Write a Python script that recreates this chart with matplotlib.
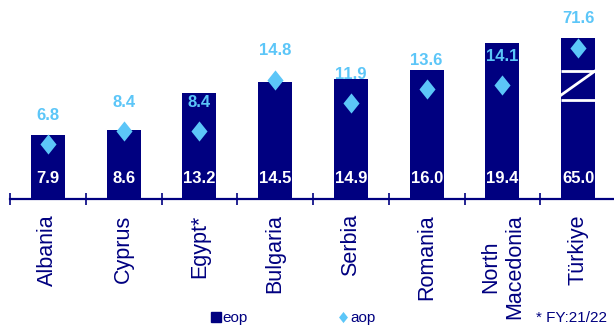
import matplotlib
matplotlib.use('Agg')
import matplotlib.pyplot as plt
from matplotlib import font_manager
from matplotlib.lines import Line2D
import numpy as np

# values
countries = ['Albania', 'Cyprus', 'Egypt*', 'Bulgaria', 'Serbia', 'Romania',
             'North\nMacedonia', 'Türkiye']
eop = [7.9, 8.6, 13.2, 14.5, 14.9, 16.0, 19.4, 65.0]
aop = [6.8, 8.4, 8.4, 14.8, 11.9, 13.6, 14.1, 71.6]

# Türkiye is drawn on a broken (compressed) axis, like in the original
broken_eop_shown = 20.0
broken_aop_shown = 18.8

navy = '#000080'
light_blue = '#5CC6F8'

names = {f.name for f in font_manager.fontManager.ttflist}
narrow = 'Liberation Sans Narrow' if 'Liberation Sans Narrow' in names else None
plt.rcParams['font.family'] = ['Liberation Sans', 'DejaVu Sans']
if narrow:
    val_font, val_size, small_size = narrow, 13, 12.5
else:
    val_font, val_size, small_size = 'Liberation Sans', 12, 11

eop_shown = eop[:-1] + [broken_eop_shown]
aop_shown = aop[:-1] + [broken_aop_shown]

diamond = [(0, 1), (0.8, 0), (0, -1), (-0.8, 0), (0, 1)]

fig = plt.figure(figsize=(6.14, 3.3), dpi=100)
ax = fig.add_axes([10 / 614, 1 - 199 / 330, 606 / 614, 199 / 330])

x = np.arange(len(countries))
bw = 0.45
ax.bar(x, eop_shown, width=bw, color=navy, zorder=2)
ax.plot(x, aop_shown, linestyle='none', marker=diamond, markersize=14.5,
        color=light_blue, markeredgewidth=0, zorder=4)

# break marks on the last bar
xl, xr = x[-1] - bw / 2, x[-1] + bw / 2
ax.plot([xl, xr], [15.9, 15.9], color='white', lw=2, zorder=3, solid_capstyle='butt')
ax.plot([xl, xr], [12.3, 12.3], color='white', lw=2, zorder=3, solid_capstyle='butt')
ax.plot([xl, xr], [12.9, 15.9], color='white', lw=2, zorder=3)

for i in range(len(countries)):
    ax.text(x[i], 2.5, f'{eop[i]:.1f}', ha='center', va='center', color='white',
            fontsize=val_size, fontweight='bold', family=val_font, zorder=5)
    ax.text(x[i], aop_shown[i] + 3.6, f'{aop[i]:.1f}', ha='center', va='center',
            color=light_blue, fontsize=val_size, fontweight='bold', family=val_font,
            zorder=5)

ax.set_xlim(-0.5, len(countries) - 0.5)
ax.set_ylim(0, 24.7)
for s in ['left', 'right', 'top']:
    ax.spines[s].set_visible(False)
ax.spines['bottom'].set_color(navy)
ax.spines['bottom'].set_linewidth(1.6)
ax.set_yticks([])
ax.set_xticks(x)
ax.set_xticklabels(countries, rotation=90, fontsize=15.5, color=navy)
ax.set_xticks(np.arange(-0.5, len(countries)), minor=True)
ax.tick_params(axis='x', which='major', length=0, pad=11)
ax.tick_params(axis='x', which='minor', direction='inout', length=8.6,
               width=1.2, color=navy)

handles = [
    Line2D([], [], linestyle='none', marker='s', markersize=6.5, color=navy, label='eop'),
    Line2D([], [], linestyle='none', marker=diamond, markersize=8,
           color=light_blue, markeredgewidth=0, label='aop'),
]
leg = fig.legend(handles=handles, loc='center left', ncol=2,
                 bbox_to_anchor=(212 / 614, 1 - 318 / 330), frameon=False,
                 handlelength=0.5, handletextpad=0.2, columnspacing=6.0,
                 borderpad=0, borderaxespad=0,
                 prop={'family': val_font, 'size': small_size})
for t in leg.get_texts():
    t.set_color(navy)

fig.text(536 / 614, 1 - 318 / 330, '* FY:21/22', ha='left', va='center',
         color=navy, family=val_font, fontsize=small_size)

fig.savefig('out.png', dpi=100)
